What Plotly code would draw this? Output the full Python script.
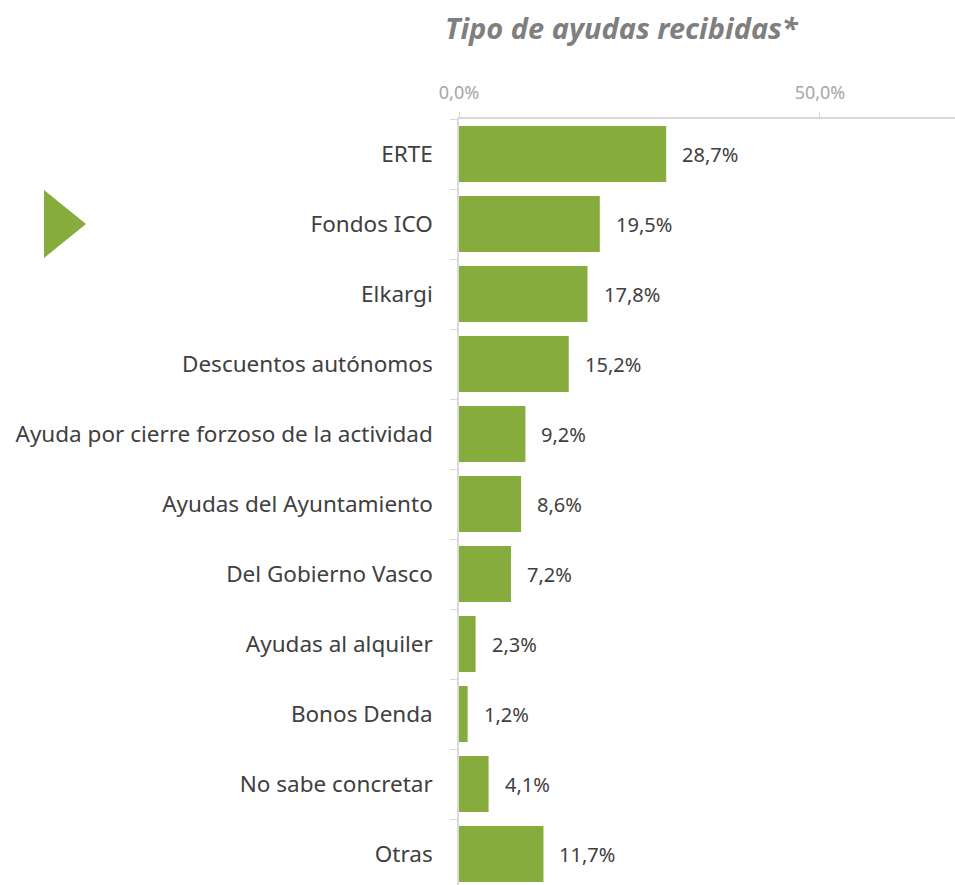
import plotly.graph_objects as go

categories = ["ERTE", "Fondos ICO", "Elkargi", "Descuentos autónomos",
              "Ayuda por cierre forzoso de la actividad", "Ayudas del Ayuntamiento",
              "Del Gobierno Vasco", "Ayudas al alquiler", "Bonos Denda",
              "No sabe concretar", "Otras"]
values = [28.7, 19.5, 17.8, 15.2, 9.2, 8.6, 7.2, 2.3, 1.2, 4.1, 11.7]
tick_vals = [0, 50]
tick_text = ["0,0%", "50,0%"]
title_text = "Tipo de ayudas recibidas*"

GREEN = "#87AC3E"
FONT = "Noto Sans"

W, H = 955, 885
PL, PT, PR, PB = 459, 119, 955, 885   # plot area in page pixels
pw, ph = PR - PL, PB - PT
BAND = 70.0
yr_bottom = (PB - PT) / BAND - 0.5

def px(xp):
    return (xp - PL) / pw

def py(yp):
    return 1 - (yp - PT) / ph

fig = go.Figure()
fig.add_trace(go.Bar(
    x=values, y=categories, orientation="h",
    marker=dict(color=GREEN, line=dict(width=0)),
    width=0.8, hoverinfo="skip",
))

for c, v in zip(categories, values):
    fig.add_annotation(
        x=v, y=c, xref="x", yref="y",
        text=f"{v:.1f}".replace(".", ",") + "%",
        showarrow=False, xanchor="left", xshift=14,
        font=dict(family=FONT, size=20, color="#404040"),
    )

# title
fig.add_annotation(
    x=px(622), y=py(27), xref="paper", yref="paper",
    text=f"<b><i>{title_text}</i></b>", showarrow=False,
    xanchor="center", yanchor="middle",
    font=dict(family=FONT, size=29, color="#7F7F7F"),
)

fig.update_layout(
    width=W, height=H,
    margin=dict(l=PL, r=W - PR, t=PT, b=H - PB),
    plot_bgcolor="white", paper_bgcolor="white",
    showlegend=False,
    separators=",.",
    bargap=0.2,
    xaxis=dict(
        side="top", range=[0, 68.7],
        tickvals=tick_vals, ticktext=tick_text,
        showgrid=False, zeroline=False,
        showline=True, linecolor="#D9D9D9", linewidth=1.5,
        ticks="outside", ticklen=5, tickcolor="#D9D9D9",
        ticklabelstandoff=6,
        tickfont=dict(family=FONT, size=18, color="#A6A6A6"),
    ),
    yaxis=dict(
        type="category", categoryorder="array", categoryarray=categories,
        range=[yr_bottom, -0.5],
        showgrid=False, zeroline=False,
        showline=True, linecolor="#D9D9D9", linewidth=1.5,
        ticks="outside", ticklen=7, tickcolor="#D9D9D9", tickson="boundaries",
        ticklabelstandoff=20,
        tickfont=dict(family=FONT, size=22.5, color="#404040"),
    ),
)

# triangle decoration at left
fig.add_shape(
    type="path", xref="paper", yref="paper",
    path=f"M {px(44)},{py(190)} L {px(86)},{py(224)} L {px(44)},{py(258)} Z",
    fillcolor=GREEN, line=dict(width=0), layer="above",
)

fig.write_html(
    "out.html",
    config={"displayModeBar": False},
    post_script="document.body.style.margin='0';document.body.style.overflow='hidden';",
)
